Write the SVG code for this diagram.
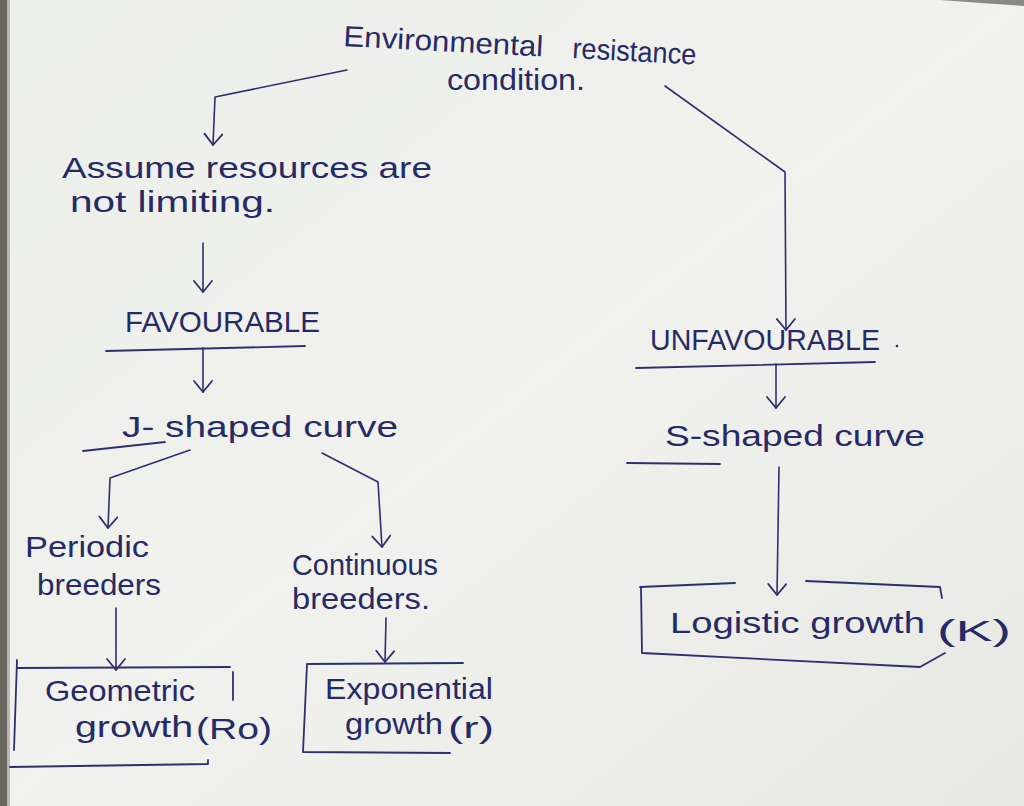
<svg xmlns="http://www.w3.org/2000/svg" width="1024" height="806" viewBox="0 0 1024 806">
<style>
text{font-family:"Liberation Sans",Arial,sans-serif;fill:#262a66;font-size:29px}
.ln{fill:none;stroke:#2c3070;stroke-width:1.8;stroke-linecap:round;stroke-linejoin:round}
.cn{fill:none;stroke:#2c3070;stroke-width:1.6;stroke-linecap:round;stroke-linejoin:round;marker-end:url(#ah)}
</style>
<defs>
<marker id="ah" viewBox="0 0 16 20" refX="13" refY="10" markerWidth="16" markerHeight="20" markerUnits="userSpaceOnUse" orient="auto">
<path d="M2,1 L13,10 L2,19" fill="none" stroke="#2c3070" stroke-width="1.8" stroke-linecap="round" stroke-linejoin="round"/>
</marker>
<linearGradient id="paper" x1="0" y1="0" x2="1" y2="1">
<stop offset="0" stop-color="#eceeea"/>
<stop offset="0.5" stop-color="#f1f2ee"/>
<stop offset="1" stop-color="#e8e9e5"/>
</linearGradient>
</defs>
<rect width="1024" height="806" fill="url(#paper)"/>
<rect x="0" y="0" width="7" height="806" fill="#6b6760"/>
<rect x="7" y="0" width="3" height="806" fill="#b9b8b2"/>
<path d="M940,0 L1024,0 L1024,6 Q980,3 940,0Z" fill="#8d8a84"/>

<g id="connectors">
<path class="cn" d="M347,70 L215,97 L213,145"/>
<path class="cn" d="M665,86 L785,172 L786,330"/>
<path class="cn" d="M203,243 L203,292"/>
<path class="cn" d="M203,348 L203,392"/>
<path class="cn" d="M190,450 L110,478 L108,528"/>
<path class="cn" d="M322,453 L378,482 L382,547"/>
<path class="cn" d="M116,608 L116,670"/>
<path class="cn" d="M386,618 L385,662"/>
<path class="cn" d="M776,364 L776,408"/>
<path class="cn" d="M779,467 L777,595"/>
</g>

<g id="root">
<text x="343" y="46" textLength="200" lengthAdjust="spacingAndGlyphs" transform="rotate(3 343 46)">Environmental</text>
<text x="572" y="58" textLength="124" lengthAdjust="spacingAndGlyphs" transform="rotate(3 572 58)">resistance</text>
<text x="447" y="90" textLength="138" lengthAdjust="spacingAndGlyphs">condition.</text>
</g>

<g id="assume">
<text x="62" y="178" textLength="370" lengthAdjust="spacingAndGlyphs">Assume  resources  are</text>
<text x="70" y="212" textLength="205" lengthAdjust="spacingAndGlyphs">not  limiting.</text>
</g>

<g id="favourable">
<text x="125" y="332" textLength="195" lengthAdjust="spacingAndGlyphs" font-size="25">FAVOURABLE</text>
<path class="ln" d="M106,351 L305,346"/>
</g>

<g id="j-curve">
<text x="122" y="437" textLength="276" lengthAdjust="spacingAndGlyphs">J-  shaped  curve</text>
<path class="ln" d="M83,451 L165,442"/>
</g>

<g id="periodic">
<text x="25" y="557" textLength="124" lengthAdjust="spacingAndGlyphs">Periodic</text>
<text x="37" y="595" textLength="124" lengthAdjust="spacingAndGlyphs">breeders</text>
</g>

<g id="continuous">
<text x="292" y="575" textLength="146" lengthAdjust="spacingAndGlyphs">Continuous</text>
<text x="292" y="609" textLength="138" lengthAdjust="spacingAndGlyphs">breeders.</text>
</g>

<g id="geometric">
<path class="ln" d="M17,668 L230,667"/>
<path class="ln" d="M17,660 L14,750"/>
<path class="ln" d="M10,767 L208,764 L208,760"/>
<path class="ln" d="M233,672 L233,700"/>
<text x="45" y="701" textLength="150" lengthAdjust="spacingAndGlyphs">Geometric</text>
<text x="75" y="737" textLength="118" lengthAdjust="spacingAndGlyphs">growth</text>
<text x="196" y="739" font-size="34" textLength="76" lengthAdjust="spacingAndGlyphs">(Ro)</text>
</g>

<g id="exponential">
<path class="ln" d="M308,664 L463,663"/>
<path class="ln" d="M307,664 L303,752 L450,753"/>
<text x="325" y="699" textLength="168" lengthAdjust="spacingAndGlyphs">Exponential</text>
<text x="345" y="734" textLength="98" lengthAdjust="spacingAndGlyphs">growth</text>
<text x="448" y="738" font-size="32" textLength="46" lengthAdjust="spacingAndGlyphs">(r)</text>
</g>

<g id="unfavourable">
<text x="650" y="350" textLength="230" lengthAdjust="spacingAndGlyphs" font-size="25">UNFAVOURABLE</text>
<circle cx="897" cy="346" r="1.3" fill="#262a66"/>
<path class="ln" d="M636,368 L875,362"/>
</g>

<g id="s-curve">
<text x="665" y="446" textLength="260" lengthAdjust="spacingAndGlyphs">S-shaped  curve</text>
<path class="ln" d="M627,463 L720,464"/>
</g>

<g id="logistic">
<path class="ln" d="M640,587 L735,583"/>
<path class="ln" d="M806,581 L940,587 L942,598"/>
<path class="ln" d="M641,587 L642,653 L920,667 L945,653"/>
<text x="670" y="633" textLength="255" lengthAdjust="spacingAndGlyphs">Logistic  growth</text>
<text x="937" y="641" font-size="34" textLength="74" lengthAdjust="spacingAndGlyphs">(K)</text>
</g>
</svg>
